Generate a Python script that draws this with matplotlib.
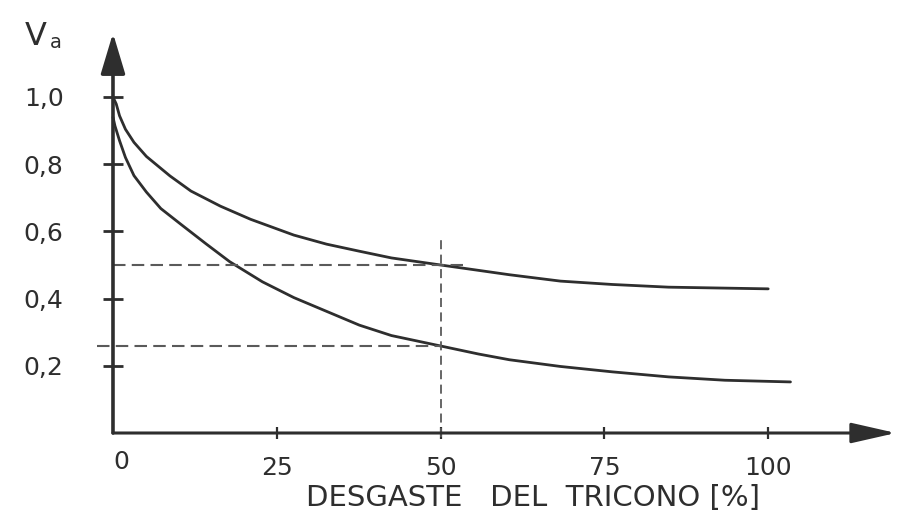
import matplotlib
matplotlib.use('Agg')
import matplotlib.pyplot as plt

plt.rcParams['font.family'] = ['DejaVu Sans']

# values
wear_upper = [0, 0.5, 1, 1.9, 3.2, 5.1, 8.7, 11.9, 16.4, 21, 27.6, 32.6,
              37.6, 42.5, 50, 55.8, 60.5, 68.3, 76.2, 84.8, 100]
va_upper = [1.0, 0.979, 0.944, 0.904, 0.865, 0.823, 0.765, 0.72, 0.675, 0.636,
            0.589, 0.562, 0.541, 0.521, 0.5, 0.484, 0.471, 0.452, 0.442,
            0.434, 0.429]

wear_lower = [0, 0.3, 1, 1.9, 3.2, 5.1, 7.3, 10.5, 14.2, 17.8, 22.8, 27.6,
              32.6, 37.6, 42.5, 50, 55.8, 60.5, 68.3, 76.2, 84.8, 93.4, 103.4]
va_lower = [0.94, 0.914, 0.87, 0.82, 0.766, 0.717, 0.668, 0.619, 0.563, 0.51,
            0.45, 0.403, 0.362, 0.321, 0.29, 0.259, 0.235, 0.218, 0.198,
            0.182, 0.167, 0.157, 0.152]

wear_ref = 50
va_ref_upper = 0.5
va_ref_lower = 0.26

x_ticks = [25, 50, 75, 100]
x_labels = ['25', '50', '75', '100']
y_ticks = [0.2, 0.4, 0.6, 0.8, 1.0]
y_labels = ['0,2', '0,4', '0,6', '0,8', '1,0']

ink = '#2e2e2e'
dash_col = '#5a5a5a'

fig = plt.figure(figsize=(9.01, 5.20), dpi=100)
ax = fig.add_axes([0.1254, 0.1673, 0.869, 0.769])
ax.set_xlim(0, 119.5)
ax.set_ylim(0, 1.19)

# curves
ax.plot(wear_upper, va_upper, color=ink, lw=2.0, clip_on=False,
        solid_capstyle='round', solid_joinstyle='round')
ax.plot(wear_lower, va_lower, color=ink, lw=2.0, clip_on=False,
        solid_capstyle='round', solid_joinstyle='round')

# reference dashes
ax.plot([0, 53.7], [va_ref_upper, va_ref_upper], color=dash_col, lw=1.5,
        ls=(0, (6, 3)), clip_on=False)
ax.plot([-2.4, wear_ref], [va_ref_lower, va_ref_lower], color=dash_col, lw=1.5,
        ls=(0, (6, 3)), clip_on=False)
ax.plot([wear_ref, wear_ref], [-0.012, 0.575], color=dash_col, lw=1.3,
        ls=(0, (5, 3)), clip_on=False)

# axes drawn as arrows
for s in ax.spines.values():
    s.set_visible(False)
ax.annotate('', xy=(1, 0), xytext=(0, 0), xycoords='axes fraction',
            textcoords='axes fraction',
            arrowprops=dict(arrowstyle='-|>,head_length=1.1,head_width=0.25',
                            color=ink, lw=2.2, mutation_scale=25,
                            shrinkA=0, shrinkB=0))
ax.annotate('', xy=(0, 1), xytext=(0, 0), xycoords='axes fraction',
            textcoords='axes fraction',
            arrowprops=dict(arrowstyle='-|>,head_length=1.0,head_width=0.3',
                            color=ink, lw=2.6, mutation_scale=25,
                            shrinkA=0, shrinkB=0))

ax.set_xticks(x_ticks)
ax.set_xticklabels(x_labels)
ax.set_yticks(y_ticks)
ax.set_yticklabels(y_labels)
ax.tick_params(axis='y', direction='inout', length=15, width=2.0, color=ink,
               labelsize=18, labelcolor=ink, pad=28)
ax.tick_params(axis='x', direction='inout', length=9, width=1.6, color=ink,
               labelsize=18, labelcolor=ink, pad=12)
ax.text(1.2, -0.05, '0', ha='center', va='top', fontsize=18, color=ink)

ax.set_xlabel('DESGASTE   DEL  TRICONO [%]', fontsize=21, color=ink)
ax.xaxis.set_label_coords(0.537, -0.128)
fig.text(0.027, 0.913, 'V', fontsize=23, color=ink)
fig.text(0.055, 0.908, 'a', fontsize=14, color=ink)

fig.savefig('out.png', dpi=100)
